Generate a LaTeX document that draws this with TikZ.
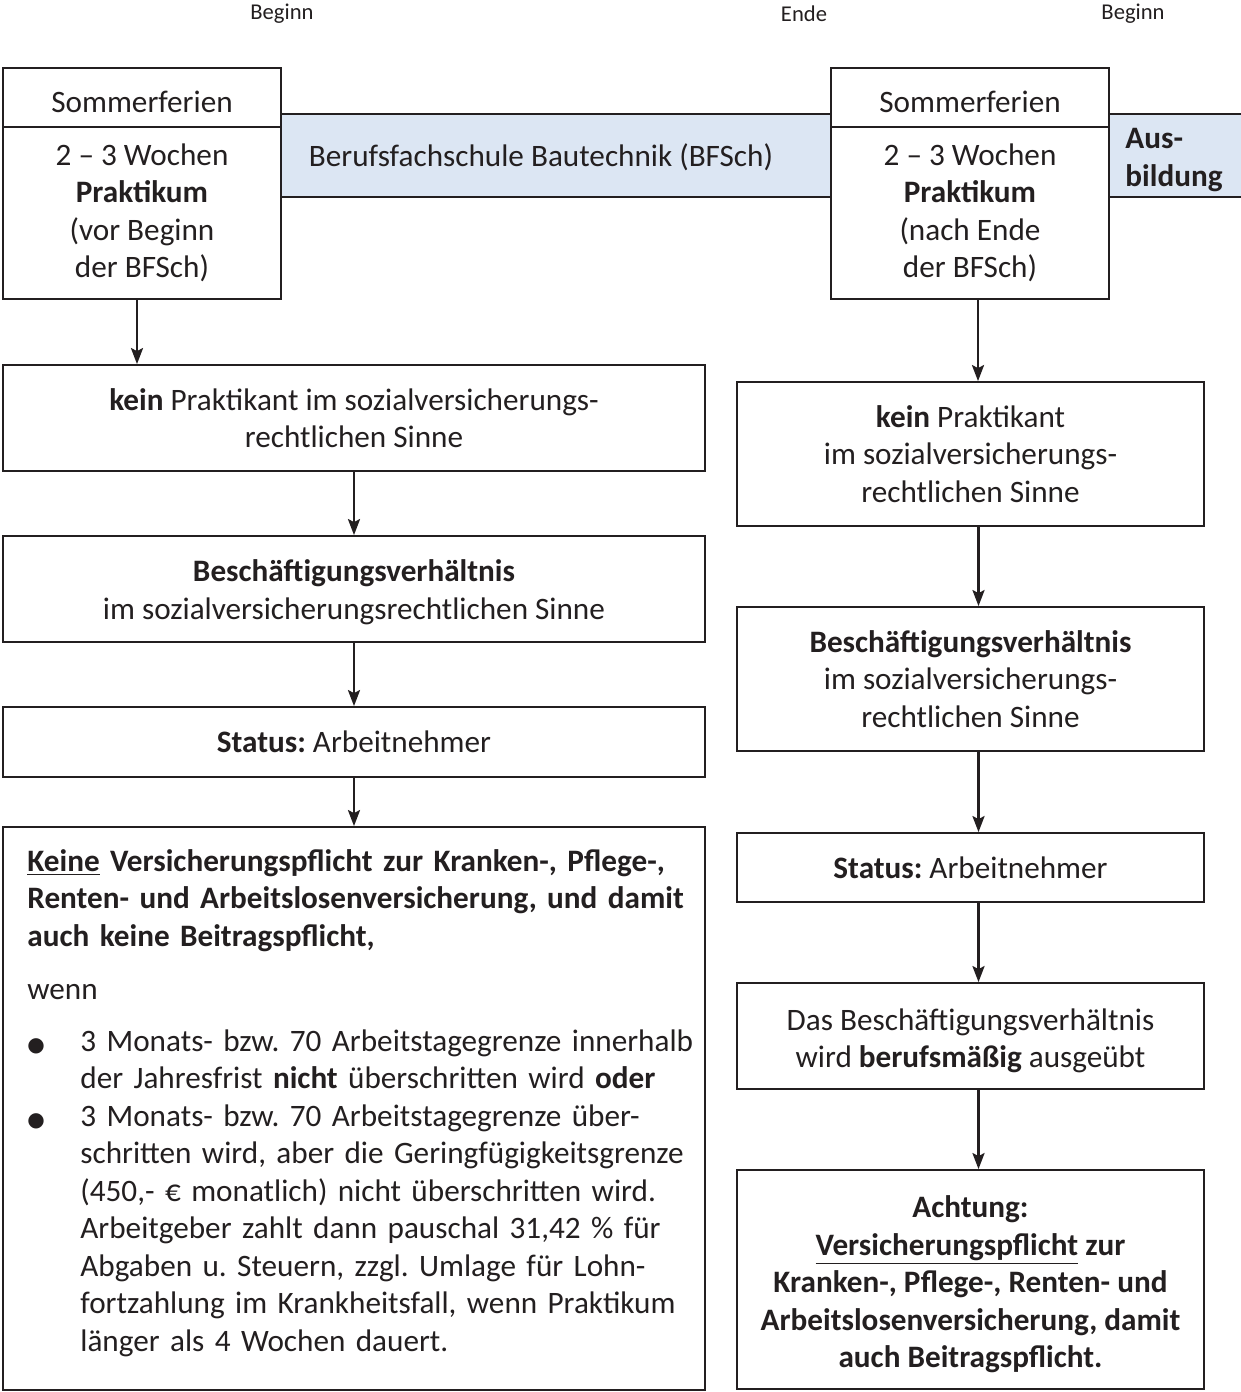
\documentclass[tikz,border=0pt]{standalone}
\usepackage{fontspec}
\setmainfont{Carlito}
\newfontfamily\dotfont{DejaVu Sans}
\usetikzlibrary{arrows.meta}
\definecolor{bandblue}{RGB}{220,230,243}
\definecolor{ink}{RGB}{35,31,32}
\newcommand{\boxfont}{\fontsize{15.6}{18.75}\selectfont}
\newcommand{\lblfont}{\fontsize{11.3}{13}\selectfont}
\newcommand{\blt}{\makebox[26.5pt][l]{\dotfont\fontsize{10}{10}\selectfont ●}}
\frenchspacing
\tikzset{
  box/.style={draw=ink, line width=0.9pt, fill=white, align=center, inner sep=0pt, font=\boxfont},
  band/.style={draw=ink, line width=0.9pt, fill=bandblue, inner sep=0pt},
  arr/.style={-{Stealth[length=8pt,width=6pt,inset=1.5pt]}, line width=1.3pt, color=ink},
}
\begin{document}
\begin{tikzpicture}[x=0.5pt,y=-0.5pt, every node/.style={text=ink}]
\useasboundingbox (0,0) rectangle (1241,1392);
% time marks
\node[font=\lblfont] (beg1) at (282,14) {Beginn};
\node[font=\lblfont] (end1) at (804,14) {Ende};
\node[font=\lblfont] (beg2) at (1133,14) {Beginn};
% bands
\node[band, minimum width=275pt, minimum height=41.5pt] (bfs) at (556,155.5) {};
\node[font=\boxfont] (bfstxt) at (541,157) {Berufsfachschule Bautechnik (BFSch)};
\node[band, minimum width=70pt, minimum height=41.5pt] (ausb) at (1179,155.5) {};
\node[font=\boxfont\bfseries, align=left, anchor=west, inner sep=0pt] (ausbtxt) at (1125,160) {Aus-\\bildung};
% holidays
\node[box, minimum width=139pt, minimum height=29.5pt, text height=15pt] (som1) at (142,97.5) {Sommerferien};
\node[box, minimum width=139pt, minimum height=86pt] (prak1) at (142,213) {2 -- 3 Wochen\\\textbf{Praktikum}\\(vor Beginn\\der BFSch)};
\node[box, minimum width=139pt, minimum height=29.5pt, text height=15pt] (som2) at (970,97.5) {Sommerferien};
\node[box, minimum width=139pt, minimum height=86pt] (prak2) at (970,213) {2 -- 3 Wochen\\\textbf{Praktikum}\\(nach Ende\\der BFSch)};
% left column
\node[box, minimum width=351pt, minimum height=53pt] (k1) at (354,418) {\textbf{kein} Praktikant im sozialversicherungs-\\rechtlichen Sinne};
\node[box, minimum width=351pt, minimum height=53pt] (k2) at (354,589) {\rule{0pt}{14pt}\textbf{Beschäftigungsverhältnis}\\im sozialversicherungsrechtlichen Sinne};
\node[box, minimum width=351pt, minimum height=35pt] (k3) at (354,742) {\textbf{Status:} Arbeitnehmer};
\node[box, minimum width=351pt, minimum height=281.5pt] (k4) at (354,1108.5) {};
\node[font=\boxfont, align=left, text width=340pt, anchor=north west, inner sep=0pt] (k4txt) at (27,849) {%
\setlength{\parindent}{0pt}%
\textbf{\underline{Keine} Versicherungspflicht zur Kranken-, Pflege-,\\Renten- und Arbeitslosenversicherung, und damit\\auch keine Beitragspflicht,}\par\vspace{8pt}
wenn\par\vspace{7pt}
\hangindent=26.5pt\hangafter=1\blt 3 Monats- bzw. 70 Arbeitstagegrenze innerhalb\newline der Jahresfrist \textbf{nicht} überschritten wird \textbf{oder}\par
\hangindent=26.5pt\hangafter=1\blt 3 Monats- bzw. 70 Arbeitstagegrenze über-\newline schritten wird, aber die Geringfügigkeitsgrenze\newline (450,- € monatlich) nicht überschritten wird.\newline Arbeitgeber zahlt dann pauschal 31,42 \% für\newline Abgaben u. Steuern, zzgl. Umlage für Lohn-\newline fortzahlung im Krankheitsfall, wenn Praktikum\newline länger als 4 Wochen dauert.\par};
% right column
\node[box, minimum width=233.5pt, minimum height=72pt] (r1) at (970.5,454) {\textbf{kein} Praktikant\\im sozialversicherungs-\\rechtlichen Sinne};
\node[box, minimum width=233.5pt, minimum height=72pt] (r2) at (970.5,679) {\textbf{Beschäftigungsverhältnis}\\im sozialversicherungs-\\rechtlichen Sinne};
\node[box, minimum width=233.5pt, minimum height=34.5pt] (r3) at (970.5,867.5) {\textbf{Status:} Arbeitnehmer};
\node[box, minimum width=233.5pt, minimum height=53pt] (r4) at (970.5,1036) {\rule{0pt}{15.5pt}Das Beschäftigungsverhältnis\\wird \textbf{berufsmäßig} ausgeübt};
\node[box, minimum width=233.5pt, minimum height=109.5pt, font=\boxfont\bfseries] (r5) at (970.5,1279.5) {\rule{0pt}{16pt}Achtung:\\\underline{Versicherungspflicht} zur\\Kranken-, Pflege-, Renten- und\\Arbeitslosenversicherung, damit\\auch Beitragspflicht.};
% arrows
\path[arr] ([xshift=-2.5pt]prak1.south) edge ([xshift=-2.5pt]prak1.south |- k1.north)
           (k1) edge (k2)
           (k2) edge (k3)
           (k3) edge (k4);
\path[arr] ([xshift=4pt]prak2.south) edge ([xshift=4pt]prak2.south |- r1.north)
           ([xshift=4pt]r1.south) edge ([xshift=4pt]r2.north)
           ([xshift=4pt]r2.south) edge ([xshift=4pt]r3.north)
           ([xshift=4pt]r3.south) edge ([xshift=4pt]r4.north)
           ([xshift=4pt]r4.south) edge ([xshift=4pt]r5.north);
\end{tikzpicture}
\end{document}
